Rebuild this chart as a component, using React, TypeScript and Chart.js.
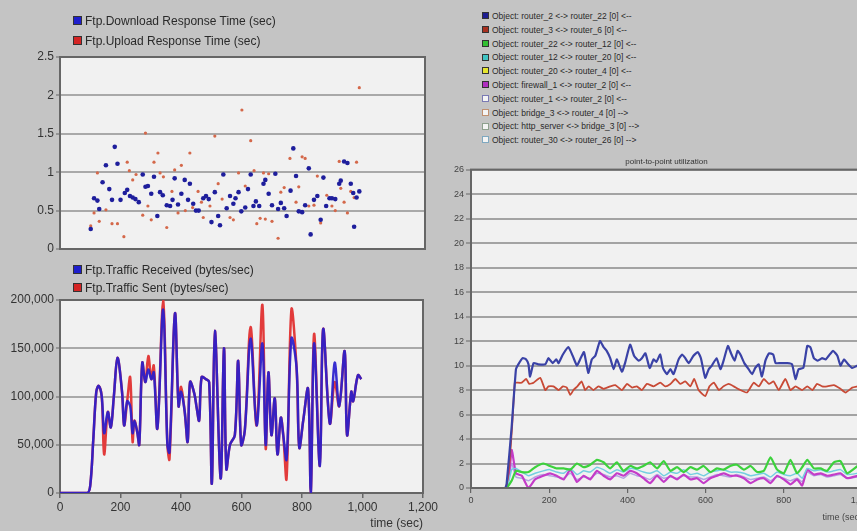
import React, { useEffect, useRef } from "react";
import { Chart, registerables } from "chart.js";
Chart.register(...registerables);

const FONT = '"Liberation Sans", Arial, sans-serif';

// ---------- Top-left: response times (scatter) ----------
const downloadTimes = [101,112,123,129,140,151,162,171,180,189,199,213,221,230,239,248,259,272,281,289,300,309,320,329,338,351,362,370,377,388,399,410,421,427,438,447,456,471,480,489,498,509,520,526,537,548,559,570,577,587,596,609,618,627,636,644,655,669,675,686,697,708,717,726,737,745,758,767,776,785,796,806,818,824,835,846,857,866,875,886,894,905,918,923,934,945,956,964,967,975,984];
const downloadValues = [0.26,0.66,0.63,0.52,0.87,1.09,0.78,0.64,1.33,1.11,0.64,0.73,0.77,0.69,0.67,0.65,0.61,0.97,0.81,0.82,0.72,0.94,0.43,0.74,0.70,0.57,0.56,0.64,0.92,0.58,0.72,0.90,0.64,0.85,0.59,0.50,0.50,0.66,0.69,0.65,0.35,0.74,0.43,0.31,0.97,0.53,0.69,0.59,0.66,0.74,0.49,0.54,0.78,0.97,0.56,0.62,0.56,0.85,0.90,0.72,0.57,0.98,0.52,0.60,0.53,0.43,0.76,1.31,0.95,0.49,0.48,0.57,1.05,0.19,0.64,0.69,0.38,0.93,0.56,0.66,0.66,0.65,0.85,0.89,1.14,1.12,0.85,0.73,0.29,0.67,0.75];
const uploadTimes = [101,112,123,129,151,171,189,210,221,228,239,250,272,281,289,300,309,322,329,340,351,368,377,388,399,412,427,436,454,465,471,493,509,520,533,559,570,587,598,609,627,638,647,658,669,675,686,697,717,726,737,756,776,785,796,806,818,835,846,857,877,894,905,918,923,934,945,956,967,975,984];
const uploadValues = [0.30,0.47,0.99,0.36,0.51,0.33,0.33,0.16,1.13,1.02,0.90,0.97,0.44,1.51,0.56,0.38,1.13,1.25,0.99,0.94,0.28,0.75,1.03,0.47,1.09,0.50,1.25,0.54,0.75,0.61,0.41,0.56,1.47,0.85,0.65,0.41,0.38,0.99,1.81,0.82,1.41,1.02,0.33,0.40,0.99,0.39,0.98,0.36,0.14,0.74,0.80,1.18,0.61,0.81,1.20,1.18,0.56,0.57,0.95,0.34,0.70,0.56,0.50,1.14,0.79,0.61,0.47,0.75,0.67,1.13,2.10];
const responseTicks = [0, 0.5, 1, 1.5, 2, 2.5];

// ---------- Bottom-left: traffic (lines) ----------
const trafficTimes = [0,90,100,110,120,128,138,146,158,168,178,190,205,212,222,232,240,246,256,262,272,282,292,302,310,322,341,355,362,380,392,400,412,422,430,444,452,460,468,482,493,502,512,531,542,550,562,578,589,599,611,630,650,669,680,689,699,710,719,730,738,749,765,782,791,804,820,829,840,859,870,892,908,923,941,949,963,969,985,996];
const trafficReceived = [0,0,8000,55000,105000,111000,100000,62000,84000,68000,100000,140000,105000,70000,95000,90000,62000,75000,62000,50000,135000,115000,128000,118000,125000,67000,190000,50000,42000,186000,90000,105000,85000,53000,115000,103000,88000,75000,120000,118000,115000,10000,168000,15000,150000,25000,50000,60000,137000,50000,65000,160000,70000,155000,50000,125000,60000,98000,40000,78000,60000,35000,160000,130000,47000,75000,108000,0,155000,28000,170000,72000,135000,90000,147000,60000,105000,95000,122000,118000];
const trafficSent = [0,0,8000,55000,105000,111000,100000,40000,84000,68000,100000,140000,105000,70000,95000,120000,53000,75000,62000,50000,135000,115000,142000,118000,132000,67000,200000,50000,35000,186000,90000,110000,85000,53000,115000,103000,88000,75000,120000,118000,115000,10000,168000,15000,150000,25000,50000,60000,137000,50000,65000,172000,70000,195000,46000,125000,60000,98000,40000,78000,60000,15000,190000,130000,47000,75000,108000,0,165000,28000,170000,72000,115000,90000,147000,60000,105000,95000,122000,118000];
const timeTicks = [0, 200, 400, 600, 800, 1000, 1200];

// ---------- Right: point-to-point utilization ----------
const utilBlueTimes = [0,87,91,104,115,121,132,141,147,151,160,172,190,198,209,218,224,235,249,260,271,279,289,300,309,318,330,339,347,356,365,373,386,394,407,417,429,437,446,457,467,474,484,491,501,510,518,531,540,548,557,569,580,588,599,608,616,628,638,646,657,665,674,682,689,699,710,719,727,736,744,753,762,773,779,791,809,821,830,838,850,860,868,877,887,898,907,915,926,937,945,954,962,975,989,1000];
const utilBlue = [0,0,0.3,5.0,9.7,10.1,10.6,10.5,10.1,9.1,10.2,10.1,10.1,10.6,10.2,10.5,10.2,10.9,11.5,10.8,10.0,10.5,11.1,9.4,10.5,10.8,12.0,11.5,11.2,10.6,9.7,10.5,9.5,10.2,11.7,10.8,10.4,10.6,11.0,9.8,10.5,10.3,10.9,9.8,9.3,9.7,9.3,10.5,10.9,10.6,10.2,10.8,11.1,10.6,9.0,9.7,10.0,10.6,9.7,10.4,11.6,11.0,10.4,11.2,10.9,10.2,9.7,9.3,9.8,10.1,9.1,10.4,11.0,10.9,10.2,10.2,10.2,10.1,8.9,9.7,9.8,11.6,11.5,10.6,10.4,10.6,10.5,10.8,11.2,10.8,10.0,10.5,10.2,9.8,10.0,9.9];
const utilRedTimes = [0,88,104,112,117,130,141,149,160,177,190,198,211,224,235,245,254,262,272,283,292,301,313,326,339,356,369,386,399,412,424,437,450,467,484,497,510,523,535,548,561,571,582,599,610,621,634,646,659,672,689,706,723,736,749,762,774,787,804,817,830,847,860,873,885,898,911,928,945,958,975,989];
const utilRed = [0,0,4.5,8.6,8.6,8.6,8.9,8.5,8.6,9.0,8.0,8.3,8.3,8.0,8.3,8.2,7.6,8.0,8.3,8.7,8.0,8.3,8.0,8.3,8.1,8.3,8.4,8.0,8.5,8.2,8.3,8.0,8.5,8.3,8.6,8.3,8.5,8.9,8.5,8.7,8.3,8.9,8.0,7.5,8.3,8.6,8.0,8.3,8.5,8.3,8.0,7.8,8.6,8.3,8.9,8.5,8.7,8.0,8.9,8.0,8.3,8.0,8.3,8.0,8.5,8.3,8.3,8.4,8.1,7.8,8.2,8.3];
const utilLowTimes = [0,90,104,115,130,147,164,185,202,219,237,254,271,288,305,322,339,356,373,390,407,424,441,458,476,493,510,527,544,561,578,595,612,629,646,663,680,698,715,732,749,766,783,800,817,834,847,860,877,894,911,928,945,962,989];
const utilGreen = [0,0,0.6,1.4,1.3,1.3,1.7,2.0,1.8,1.6,1.6,1.5,2.0,1.7,1.9,2.3,2.1,1.6,2.1,1.4,1.8,1.6,1.8,2.1,1.6,2.2,1.4,1.7,1.3,1.7,1.5,1.8,1.3,1.6,1.5,1.8,1.9,1.5,1.8,1.3,1.4,2.5,1.5,1.2,2.3,1.2,1.7,2.3,1.6,1.6,1.4,2.1,2.2,1.2,1.8];
const utilCyan = [0,0,1.5,1.6,1.3,1.0,1.2,1.4,1.5,1.3,1.2,1.6,1.1,1.4,1.3,1.7,1.5,1.2,1.5,1.3,1.6,1.5,1.3,1.2,1.4,1.0,1.3,1.2,1.5,1.1,1.2,1.0,1.3,1.4,1.5,1.3,1.3,1.2,1.0,1.1,1.2,0.9,1.3,1.1,1.0,1.2,0.8,1.6,1.4,1.5,1.3,1.4,1.5,1.1,1.2];
const utilMagenta = [0,0,3.1,1.2,1.0,0,0.7,1.0,1.2,1.0,0.7,1.5,0.5,1.0,0.7,1.4,1.0,0.7,1.2,1.0,1.4,1.2,0.8,0.4,1.0,0.5,1.0,0.7,1.1,0.7,0.8,0.4,0.8,1.0,1.2,1.0,1.0,0.8,0.4,0.7,0.8,0.4,1.0,0.7,0.3,0.7,0.2,1.5,1.1,1.2,1.0,1.1,1.2,0.8,1.0];
const utilLavender = [0,0,2.0,0.9,0.8,0.6,0.9,1.1,1.0,0.9,0.8,1.2,0.7,0.9,0.8,1.2,1.1,0.9,1.0,0.8,1.2,1.0,0.9,0.7,1.1,0.8,0.9,0.8,1.0,0.9,0.9,0.7,0.9,1.1,1.0,0.9,1.1,0.9,0.7,0.8,0.9,0.6,0.9,0.8,0.6,0.8,0.5,1.3,1.0,1.1,0.9,1.0,1.1,0.8,0.9];
const utilZeroTimes = [0, 1000];
const utilZero = [0, 0];
const utilTimeTicks = [0, 200, 400, 600, 800, 1000];

const utilLegend = [
  { label: "Object: router_2 <-> router_22 [0] <--", color: "#1c1c90", hollow: false },
  { label: "Object: router_3 <-> router_6 [0] <--", color: "#a8301f", hollow: false },
  { label: "Object: router_22 <-> router_12 [0] <--", color: "#33c033", hollow: false },
  { label: "Object: router_12 <-> router_20 [0] <--", color: "#3fc4c4", hollow: false },
  { label: "Object: router_20 <-> router_4 [0] <--", color: "#e6e62e", hollow: false },
  { label: "Object: firewall_1 <-> router_2 [0] <--", color: "#b02fc0", hollow: false },
  { label: "Object: router_1 <-> router_2 [0] <--", color: "#7a7ab4", hollow: true },
  { label: "Object: bridge_3 <-> router_4 [0] -->", color: "#c09070", hollow: true },
  { label: "Object: http_server <-> bridge_3 [0] -->", color: "#8ea08e", hollow: true },
  { label: "Object: router_30 <-> router_26 [0] -->", color: "#7fa8c0", hollow: true },
];

const pts = (xs: number[], ys: number[]) => xs.map((x, i) => ({ x, y: ys[i] }));
const fmt = (v: any) => Number(v).toLocaleString("en-US");
const plain = (v: any) => String(Number(v));

const framePlugin = {
  id: "frame",
  beforeDraw(chart: any) {
    const { ctx, chartArea: a } = chart;
    ctx.save();
    ctx.fillStyle = "#f1f1f1";
    ctx.fillRect(a.left, a.top, a.right - a.left, a.bottom - a.top);
    ctx.restore();
  },
  beforeDatasetsDraw(chart: any) {
    if (chart.options.plugins.frame?.after) return;
    drawFrame(chart);
  },
  afterDatasetsDraw(chart: any) {
    if (!chart.options.plugins.frame?.after) return;
    drawFrame(chart);
  },
};
function drawFrame(chart: any) {
  const { ctx, chartArea: a } = chart;
  ctx.save();
  ctx.strokeStyle = "#666";
  ctx.lineWidth = 2;
  ctx.strokeRect(a.left, a.top, a.right - a.left, a.bottom - a.top);
  ctx.restore();
}

function ChartBox({ make, left, top, width, height }: { make: () => any; left: number; top: number; width: number; height: number }) {
  const ref = useRef<HTMLCanvasElement>(null);
  useEffect(() => {
    const c = new Chart(ref.current as HTMLCanvasElement, make());
    return () => c.destroy();
  }, []);
  return (
    <canvas
      ref={ref}
      width={width}
      height={height}
      style={{ position: "absolute", left, top, width, height, display: "block" }}
    />
  );
}

const leftYGrid = { color: "#a9a9a9", lineWidth: 2, drawTicks: true, tickLength: 4, tickColor: "#666", tickWidth: 1 };

function responseConfig() {
  return {
    type: "scatter",
    data: {
      datasets: [
        { label: "Ftp.Download Response Time (sec)", data: pts(downloadTimes, downloadValues), backgroundColor: "#1e1e9c", borderColor: "#1e1e9c", pointRadius: 2.3, borderWidth: 0 },
        { label: "Ftp.Upload Response Time (sec)", data: pts(uploadTimes, uploadValues), backgroundColor: "#d4684a", borderColor: "#d4684a", pointRadius: 1.6, borderWidth: 0 },
      ],
    },
    options: {
      responsive: false,
      animation: false,
      layout: { padding: { top: 57, right: 20, left: 0, bottom: 0 } },
      plugins: { legend: { display: false }, tooltip: { enabled: false } },
      scales: {
        x: {
          type: "linear", min: 0, max: 1200,
          ticks: { display: false },
          grid: { display: false },
          border: { display: false },
          afterFit: (s: any) => { s.height = 13; },
        },
        y: {
          min: 0, max: 2.5,
          afterBuildTicks: (s: any) => { s.ticks = responseTicks.map((v) => ({ value: v })); },
          ticks: { color: "#333", font: { family: FONT, size: 12 }, padding: 2, callback: plain },
          grid: leftYGrid,
          border: { display: false },
          afterFit: (s: any) => { s.width = 60; },
        },
      },
    },
    plugins: [framePlugin],
  };
}

function trafficConfig() {
  return {
    type: "line",
    data: {
      datasets: [
        { label: "Ftp.Traffic Received (bytes/sec)", data: pts(trafficTimes, trafficReceived), borderColor: "rgba(40,30,205,0.92)", borderWidth: 2.5, pointRadius: 0, tension: 0.35, fill: false },
        { label: "Ftp.Traffic Sent (bytes/sec)", data: pts(trafficTimes, trafficSent), borderColor: "#e23b3b", borderWidth: 2.5, pointRadius: 0, tension: 0.35, fill: false },
      ],
    },
    options: {
      responsive: false,
      animation: false,
      parsing: false,
      layout: { padding: { top: 38, right: 22, left: 0, bottom: 0 } },
      plugins: { legend: { display: false }, tooltip: { enabled: false } },
      scales: {
        x: {
          type: "linear", min: 0, max: 1200,
          afterBuildTicks: (s: any) => { s.ticks = timeTicks.map((v) => ({ value: v })); },
          ticks: { color: "#333", font: { family: FONT, size: 12 }, padding: 2, autoSkip: false, maxRotation: 0, callback: fmt },
          grid: { drawOnChartArea: false, drawTicks: true, tickLength: 5, tickColor: "#666", lineWidth: 1.5 },
          border: { display: false },
          title: { display: true, text: "time (sec)", align: "end", color: "#333", font: { family: FONT, size: 12 }, padding: { top: 0, bottom: 0 } },
          afterFit: (s: any) => { s.height = 38; },
        },
        y: {
          min: 0, max: 200000,
          ticks: { stepSize: 50000, color: "#333", font: { family: FONT, size: 12 }, padding: 2, callback: fmt },
          grid: leftYGrid,
          border: { display: false },
          afterFit: (s: any) => { s.width = 60; },
        },
      },
    },
    plugins: [framePlugin],
  };
}

function utilConfig() {
  const line = (label: string, xs: number[], ys: number[], color: string, w: number) => ({
    label, data: pts(xs, ys), borderColor: color, borderWidth: w, pointRadius: 0, tension: 0.15, fill: false,
  });
  return {
    type: "line",
    data: {
      datasets: [
        line(utilLegend[0].label, utilBlueTimes, utilBlue, "#3a42a6", 2.2),
        line(utilLegend[1].label, utilRedTimes, utilRed, "#c84a36", 1.8),
        line(utilLegend[2].label, utilLowTimes, utilGreen, "#3cd23c", 2.2),
        line(utilLegend[3].label, utilLowTimes, utilCyan, "#74cfe0", 1.5),
        line(utilLegend[4].label, utilZeroTimes, utilZero, "#d8d830", 1.5),
        line(utilLegend[5].label, utilLowTimes, utilMagenta, "#c43cc8", 2.2),
        line(utilLegend[6].label, utilLowTimes, utilLavender, "#b4a4e2", 1.5),
        line(utilLegend[7].label, utilZeroTimes, utilZero, "#c09070", 1.5),
        line(utilLegend[8].label, utilZeroTimes, utilZero, "#8ea08e", 1.5),
        line(utilLegend[9].label, utilZeroTimes, utilZero, "#7fa8c0", 1.5),
      ],
    },
    options: {
      responsive: false,
      animation: false,
      parsing: false,
      layout: { padding: { top: 7, right: 18, left: 0, bottom: 0 } },
      plugins: {
        legend: { display: false },
        tooltip: { enabled: false },
        frame: { after: true },
        title: { display: true, text: "point-to-point utilization", fullSize: false, color: "#333", font: { family: FONT, size: 8, weight: "normal" }, padding: { top: 0, bottom: 3 } },
      },
      scales: {
        x: {
          type: "linear", min: 0, max: 1000,
          afterBuildTicks: (s: any) => { s.ticks = utilTimeTicks.map((v) => ({ value: v })); },
          ticks: { color: "#444", font: { family: FONT, size: 9 }, padding: 2, autoSkip: false, maxRotation: 0, callback: fmt },
          grid: { drawOnChartArea: false, drawTicks: true, tickLength: 5, tickColor: "#666", lineWidth: 1.2 },
          border: { display: false },
          title: { display: true, text: "time (sec)", align: "end", color: "#444", font: { family: FONT, size: 9 }, padding: { top: 0, bottom: 8 } },
          afterFit: (s: any) => { s.height = 43; },
        },
        y: {
          min: 0, max: 26,
          ticks: { stepSize: 2, color: "#444", font: { family: FONT, size: 9 }, padding: 2 },
          grid: { color: "#a3a3a3", lineWidth: 2, drawTicks: true, tickLength: 5, tickColor: "#666", tickWidth: 1 },
          border: { display: false },
          afterFit: (s: any) => { s.width = 26; },
        },
      },
    },
    plugins: [framePlugin],
  };
}

function LegendRow({ top, left, color, label, size, box, hollow }: any) {
  return (
    <div style={{ position: "absolute", top: top - 8, left, height: 16, lineHeight: "16px", whiteSpace: "nowrap", fontFamily: FONT, fontSize: size, color: "#2a2a2a" }}>
      <span
        style={{
          display: "inline-block", width: box, height: box, verticalAlign: "middle", marginTop: -2,
          background: hollow ? "#f4f4f4" : color, border: `1px solid ${hollow ? color : "#333"}`, boxSizing: "border-box",
          marginRight: 3,
        }}
      />
      {label}
    </div>
  );
}

export default function App() {
  return (
    <div style={{ position: "absolute", left: 0, top: 0, width: 857, height: 531, overflow: "hidden", background: "#c4c4c4" }}>
      <ChartBox make={responseConfig} left={0} top={0} width={445} height={262} />
      <ChartBox make={trafficConfig} left={0} top={262} width={445} height={269} />
      <ChartBox make={utilConfig} left={445} top={150} width={435} height={381} />
      <LegendRow top={21} left={73} color="#1e1ecc" label="Ftp.Download Response Time (sec)" size={12} box={9} />
      <LegendRow top={41} left={73} color="#d42424" label="Ftp.Upload Response Time (sec)" size={12} box={9} />
      <LegendRow top={270} left={73} color="#1e1ecc" label="Ftp.Traffic Received (bytes/sec)" size={12} box={9} />
      <LegendRow top={288} left={73} color="#d42424" label="Ftp.Traffic Sent (bytes/sec)" size={12} box={9} />
      {utilLegend.map((e, i) => (
        <LegendRow key={i} top={16 + i * 13.8} left={482} color={e.color} label={e.label} size={8.5} box={7} hollow={e.hollow} />
      ))}
    </div>
  );
}
